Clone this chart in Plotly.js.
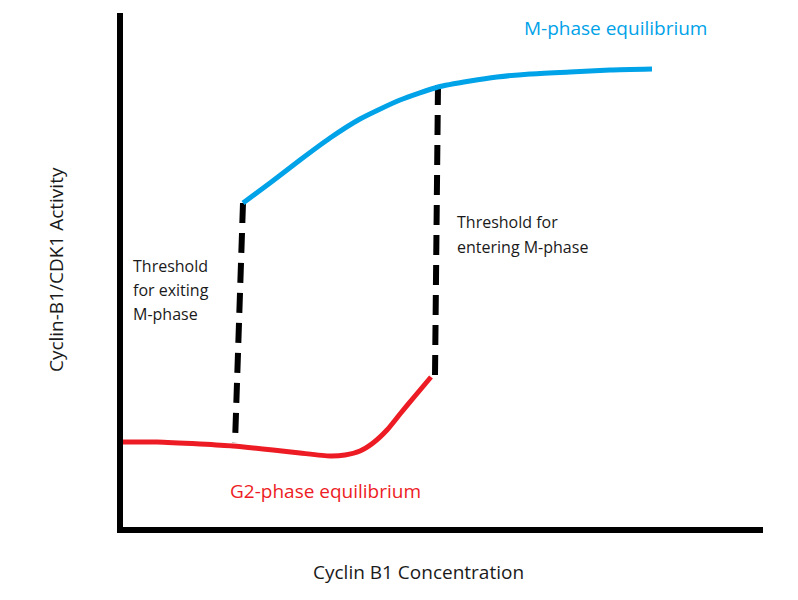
<!DOCTYPE html>
<html>
<head>
<meta charset="utf-8">
<script src="https://cdn.plot.ly/plotly-3.0.1.min.js"></script>
<style>html,body{margin:0;padding:0;background:#fff;}#chart{width:798px;height:600px;}</style>
</head>
<body>
<div id="chart"></div>
<script>
// Diagram values (arbitrary units: concentration on x, activity on y)
const mPhaseX = [123, 150, 180, 210, 240, 280, 318, 350, 377, 410, 450, 490, 532];
const mPhaseY = [327, 347, 370, 392, 411, 430, 443, 449, 453, 456, 458, 460, 461];
const g2PhaseX = [0, 37, 80, 113, 153, 180, 210, 225, 240, 253, 267, 280, 295, 311];
const g2PhaseY = [88, 88, 86, 84, 80, 77, 74, 75, 79, 87, 100, 116, 134, 153];
const exitThresholdX = [123, 115];
const exitThresholdY = [327, 87];
const enterThresholdX = [318, 315];
const enterThresholdY = [445, 154];

const labelMPhase = "M-phase equilibrium";
const labelG2Phase = "G2-phase equilibrium";
const labelExit = ["Threshold", "for exiting", "M-phase"];
const labelEnter = ["Threshold for", "entering M-phase"];
const xTitle = "Cyclin B1 Concentration";
const yTitle = "Cyclin-B1/CDK1 Activity";

const BLUE = "#00a2e8", RED = "#ed1c24", TXT = "#1a1a1a";
const FONT = "Open Sans, sans-serif";

const traces = [
  {x: exitThresholdX, y: exitThresholdY, mode: "lines", line: {color: "#000", width: 6, dash: "20px,10px"}, hoverinfo: "skip"},
  {x: enterThresholdX, y: enterThresholdY, mode: "lines", line: {color: "#000", width: 6, dash: "20px,10px"}, hoverinfo: "skip"},
  {x: mPhaseX, y: mPhaseY, mode: "lines", line: {color: BLUE, width: 5, shape: "spline", smoothing: 0.6}},
  {x: g2PhaseX, y: g2PhaseY, mode: "lines", line: {color: RED, width: 5, shape: "spline", smoothing: 0.6}}
];

const ann = [];
ann.push({x: 495, y: 502, xref: "x", yref: "y", text: labelMPhase, showarrow: false, font: {family: FONT, size: 19, color: BLUE}});
ann.push({x: 205, y: 39, xref: "x", yref: "y", text: labelG2Phase, showarrow: false, font: {family: FONT, size: 19, color: RED}});
labelExit.forEach((t, i) => ann.push({x: 11, y: 264 - i * 24, xref: "x", yref: "y", xanchor: "left", text: t, showarrow: false, font: {family: FONT, size: 16, color: TXT}}));
labelEnter.forEach((t, i) => ann.push({x: 335, y: 308 - i * 25, xref: "x", yref: "y", xanchor: "left", text: t, showarrow: false, font: {family: FONT, size: 16, color: TXT}}));
ann.push({x: 0.461, y: -0.117, xref: "paper", yref: "paper", text: xTitle, showarrow: false, font: {family: FONT, size: 19, color: TXT}});
ann.push({x: -0.128, y: 0.5, xref: "paper", yref: "paper", text: yTitle, textangle: -90, showarrow: false, font: {family: FONT, size: 19, color: TXT}});

const layout = {
  width: 798, height: 600,
  margin: {l: 123, r: 35, t: 13, b: 73},
  paper_bgcolor: "#fff", plot_bgcolor: "#fff",
  showlegend: false,
  xaxis: {range: [3, 643], showgrid: false, zeroline: false, showticklabels: false, ticks: "", showline: true, linecolor: "#000", linewidth: 6, fixedrange: true},
  yaxis: {range: [3, 517], showgrid: false, zeroline: false, showticklabels: false, ticks: "", showline: true, linecolor: "#000", linewidth: 6, fixedrange: true},
  annotations: ann
};

Plotly.newPlot("chart", traces, layout, {displayModeBar: false, staticPlot: true});
</script>
</body>
</html>
